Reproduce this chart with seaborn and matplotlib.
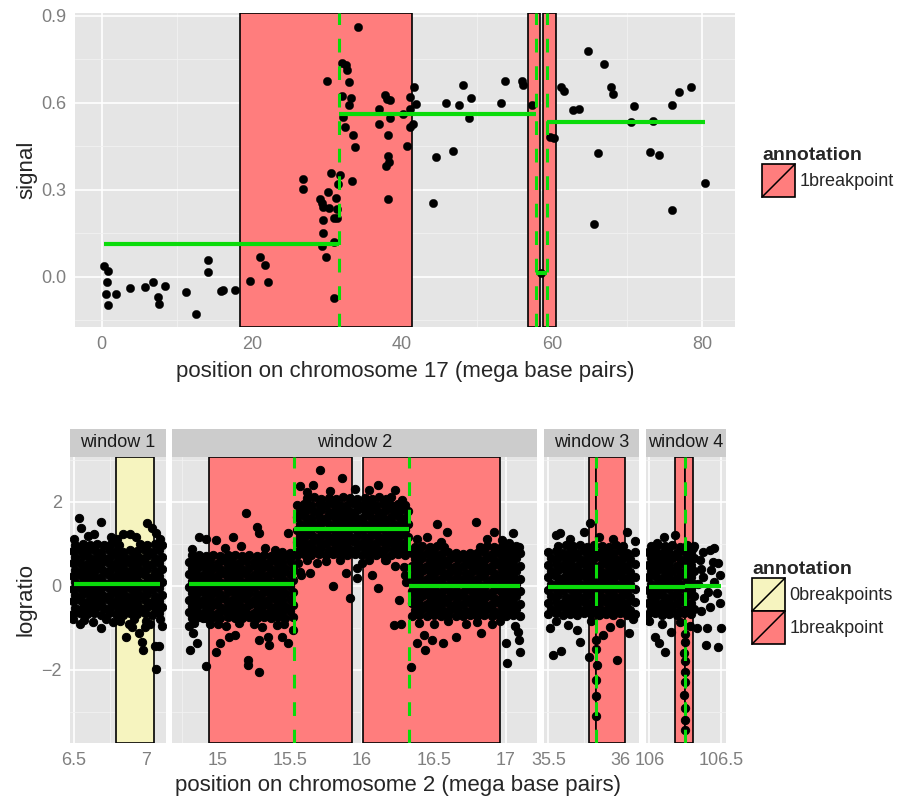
import pandas as pd
import matplotlib
matplotlib.use("Agg")
import matplotlib.pyplot as plt
import seaborn as sns
from matplotlib.patches import Rectangle, Patch
from matplotlib.lines import Line2D
from matplotlib.legend_handler import HandlerPatch

sns.set_style("white")
plt.rcParams["font.family"] = ["Liberation Sans", "DejaVu Sans"]

RED = "#ff7d7d"
YELLOW = "#f6f4bf"
GREEN = "#0adb0a"
BG = "#e5e5e5"
MINOR = "#f2f2f2"
TICK = "#7f7f7f"

# ---- top panel: chromosome 17 ----
top_pos = [0.35, 0.89, 0.75, 0.53, 1.9, 0.89, 3.8, 5.8, 6.8, 7.5, 7.6, 8.4, 11.2, 12.5, 14.2, 14.1, 15.9, 16.1, 17.7, 19.8, 21.1, 21.7, 22.1,
           34.2, 32.0, 32.6, 32.7, 30.0, 33.0, 32.0, 33.2, 33.0, 32.4, 32.1, 33.5, 33.8, 30.5, 31.7, 33.3, 26.8, 26.8, 31.5, 30.2, 31.2, 29.1, 29.3, 29.5, 30.3, 31.3, 30.9, 29.5, 31.3, 29.5, 29.3, 31.0, 29.9, 31.0,
           37.7, 38.0, 38.4, 36.9, 37.0, 38.4, 38.1, 38.1, 38.3, 37.9, 38.1, 40.2, 40.7, 41.6, 41.1, 41.1, 41.9, 41.5, 41.1,
           44.6, 44.2, 46.8, 45.9, 47.6, 48.1, 49.2, 49.0, 53.2, 53.7, 56.0, 56.2, 57.3, 58.5,
           61.2, 61.6, 62.8, 63.6, 59.8, 60.3, 64.8, 67.0, 67.9, 68.2, 66.2, 65.6, 71.0, 70.6, 73.5, 73.1, 74.3, 76.0, 76.9, 78.6, 76.0, 80.4]
top_signal = [0.038, 0.021, -0.018, -0.059, -0.059, -0.097, -0.041, -0.037, -0.018, -0.069, -0.093, -0.031, -0.053, -0.128, 0.059, 0.016, -0.048, -0.046, -0.046, -0.015, 0.069, 0.040, -0.018,
              0.861, 0.738, 0.730, 0.712, 0.675, 0.673, 0.625, 0.616, 0.594, 0.516, 0.550, 0.488, 0.446, 0.356, 0.352, 0.331, 0.338, 0.303, 0.320, 0.291, 0.273, 0.268, 0.254, 0.242, 0.237, 0.233, 0.202, 0.196, 0.201, 0.149, 0.107, 0.118, 0.069, -0.073,
              0.626, 0.614, 0.611, 0.579, 0.528, 0.549, 0.488, 0.415, 0.394, 0.381, 0.269, 0.560, 0.450, 0.653, 0.619, 0.580, 0.595, 0.528, 0.518,
              0.414, 0.253, 0.435, 0.598, 0.591, 0.660, 0.615, 0.549, 0.598, 0.674, 0.675, 0.660, 0.594, 0.014,
              0.653, 0.640, 0.574, 0.577, 0.482, 0.478, 0.779, 0.733, 0.656, 0.629, 0.425, 0.182, 0.588, 0.533, 0.536, 0.431, 0.421, 0.591, 0.636, 0.653, 0.231, 0.324]
top_regions = [(18.44, 41.3), (56.75, 58.44), (58.75, 60.48)]
top_breaks = [31.64, 57.9, 59.37]
top_segments = [(0.35, 31.64, 0.114), (31.64, 57.9, 0.563), (57.9, 59.37, 0.014), (59.37, 80.4, 0.534)]

# ---- bottom panels: chromosome 2, four windows ----
w1_pts = [
    (6.51, 0.98), (6.56, 1.00), (6.61, 0.97), (6.66, 0.99), (6.71, 0.96), (6.76, 1.00), (6.81, 0.98), (6.96, 0.99), (7.01, 0.97), (7.06, 1.00), (7.11, 0.96),
    (6.49, 0.83), (6.54, 0.85), (6.59, 0.82), (6.64, 0.84), (6.69, 0.81), (6.74, 0.85), (6.79, 0.83), (6.84, 0.81), (6.89, 0.84), (6.94, 0.82), (6.99, 0.85), (7.04, 0.81), (7.09, 0.84),
    (6.51, 0.68), (6.56, 0.70), (6.61, 0.67), (6.66, 0.69), (6.71, 0.66), (6.76, 0.70), (6.81, 0.68), (6.86, 0.66), (6.91, 0.69), (6.96, 0.67), (7.01, 0.70), (7.06, 0.66), (7.11, 0.69),
    (6.49, 0.53), (6.54, 0.55), (6.59, 0.52), (6.64, 0.54), (6.69, 0.51), (6.74, 0.55), (6.79, 0.53), (6.84, 0.51), (6.89, 0.54), (6.94, 0.52), (6.99, 0.55), (7.04, 0.51), (7.09, 0.54),
    (6.51, 0.38), (6.56, 0.40), (6.61, 0.37), (6.66, 0.39), (6.71, 0.36), (6.76, 0.40), (6.81, 0.38), (6.86, 0.36), (6.91, 0.39), (6.96, 0.37), (7.01, 0.40), (7.06, 0.36), (7.11, 0.39),
    (6.49, 0.23), (6.54, 0.25), (6.59, 0.22), (6.64, 0.24), (6.69, 0.21), (6.74, 0.25), (6.79, 0.23), (6.84, 0.21), (6.89, 0.24), (6.94, 0.22), (6.99, 0.25), (7.04, 0.21), (7.09, 0.24),
    (6.51, 0.08), (6.56, 0.10), (6.61, 0.07), (6.66, 0.09), (6.71, 0.06), (6.76, 0.10), (6.81, 0.08), (6.86, 0.06), (6.91, 0.09), (6.96, 0.07), (7.01, 0.10), (7.06, 0.06), (7.11, 0.09),
    (6.49, -0.07), (6.54, -0.05), (6.59, -0.08), (6.64, -0.06), (6.69, -0.09), (6.74, -0.05), (6.79, -0.07), (6.84, -0.09), (6.89, -0.06), (6.94, -0.08), (6.99, -0.05), (7.04, -0.09), (7.09, -0.06),
    (6.51, -0.22), (6.56, -0.20), (6.61, -0.23), (6.66, -0.21), (6.71, -0.24), (6.76, -0.20), (6.81, -0.22), (6.86, -0.24), (6.91, -0.21), (6.96, -0.23), (7.01, -0.20), (7.06, -0.24), (7.11, -0.21),
    (6.49, -0.37), (6.54, -0.35), (6.59, -0.38), (6.64, -0.36), (6.69, -0.39), (6.74, -0.35), (6.79, -0.37), (6.84, -0.39), (6.89, -0.36), (6.94, -0.38), (6.99, -0.35), (7.04, -0.39), (7.09, -0.36),
    (6.51, -0.52), (6.56, -0.50), (6.61, -0.53), (6.66, -0.51), (6.71, -0.54), (6.76, -0.50), (6.81, -0.52), (6.86, -0.54), (6.91, -0.51), (6.96, -0.53), (7.01, -0.50), (7.06, -0.54), (7.11, -0.51),
    (6.49, -0.67), (6.54, -0.65), (6.59, -0.68), (6.64, -0.66), (6.69, -0.69), (6.74, -0.65), (6.79, -0.67), (6.84, -0.69), (6.89, -0.66), (6.94, -0.68), (6.99, -0.65), (7.04, -0.69), (7.09, -0.66),
    (6.535, 1.60), (6.69, 1.52), (6.55, 1.37), (7.01, 1.50), (7.04, 1.37), (7.07, 1.25), (6.60, 1.18), (6.64, 1.24), (6.76, 1.17), (6.80, 1.10),
    (6.84, 1.22), (6.89, 1.24), (6.93, 1.16), (6.50, 1.12), (7.10, 1.10),
    (6.86, -1.23), (6.95, -1.12), (6.97, -1.33), (6.98, -1.53), (7.06, -1.44), (7.09, -1.44), (7.07, -1.99), (6.69, -1.01), (6.54, -0.91), (6.63, -0.87),
    (7.03, -0.91), (6.49, -0.80), (6.57, -0.82), (6.72, -0.80), (6.77, -0.86), (6.82, -0.84), (6.88, -0.90), (6.92, -0.80), (7.00, -0.83), (7.10, -0.80),
    (6.99, -0.98), (6.90, -0.99), (7.11, -0.95),
]
w2_pts = [
    # left segment
    (14.82, 0.72), (14.87, 0.74), (14.92, 0.71), (14.97, 0.73), (15.02, 0.70), (15.07, 0.74), (15.12, 0.72), (15.17, 0.70), (15.22, 0.73), (15.27, 0.71), (15.32, 0.74), (15.37, 0.70), (15.42, 0.73), (15.47, 0.72), (15.52, 0.74),
    (14.80, 0.57), (14.85, 0.59), (14.90, 0.56), (14.95, 0.58), (15.00, 0.55), (15.05, 0.59), (15.10, 0.57), (15.15, 0.55), (15.20, 0.58), (15.25, 0.56), (15.30, 0.59), (15.35, 0.55), (15.40, 0.58), (15.45, 0.57), (15.50, 0.59),
    (14.82, 0.42), (14.87, 0.44), (14.92, 0.41), (14.97, 0.43), (15.02, 0.40), (15.07, 0.44), (15.12, 0.42), (15.17, 0.40), (15.22, 0.43), (15.27, 0.41), (15.32, 0.44), (15.37, 0.40), (15.42, 0.43), (15.47, 0.42), (15.52, 0.44),
    (14.80, 0.27), (14.85, 0.29), (14.90, 0.26), (14.95, 0.28), (15.00, 0.25), (15.05, 0.29), (15.10, 0.27), (15.15, 0.25), (15.20, 0.28), (15.25, 0.26), (15.30, 0.29), (15.35, 0.25), (15.40, 0.28), (15.45, 0.27), (15.50, 0.29),
    (14.82, 0.12), (14.87, 0.14), (14.92, 0.11), (14.97, 0.13), (15.02, 0.10), (15.07, 0.14), (15.12, 0.12), (15.17, 0.10), (15.22, 0.13), (15.27, 0.11), (15.32, 0.14), (15.37, 0.10), (15.42, 0.13), (15.47, 0.12), (15.52, 0.14),
    (14.80, -0.03), (14.85, -0.01), (14.90, -0.04), (14.95, -0.02), (15.00, -0.05), (15.05, -0.01), (15.10, -0.03), (15.15, -0.05), (15.20, -0.02), (15.25, -0.04), (15.30, -0.01), (15.35, -0.05), (15.40, -0.02), (15.45, -0.03), (15.50, -0.01),
    (14.82, -0.18), (14.87, -0.16), (14.92, -0.19), (14.97, -0.17), (15.02, -0.20), (15.07, -0.16), (15.12, -0.18), (15.17, -0.20), (15.22, -0.17), (15.27, -0.19), (15.32, -0.16), (15.37, -0.20), (15.42, -0.17), (15.47, -0.18), (15.52, -0.16),
    (14.80, -0.33), (14.85, -0.31), (14.90, -0.34), (14.95, -0.32), (15.00, -0.35), (15.05, -0.31), (15.10, -0.33), (15.15, -0.35), (15.20, -0.32), (15.25, -0.34), (15.30, -0.31), (15.35, -0.35), (15.40, -0.32), (15.45, -0.33), (15.50, -0.31),
    (14.82, -0.48), (14.87, -0.46), (14.92, -0.49), (14.97, -0.47), (15.02, -0.50), (15.07, -0.46), (15.12, -0.48), (15.17, -0.50), (15.22, -0.47), (15.27, -0.49), (15.32, -0.46), (15.37, -0.50), (15.42, -0.47), (15.47, -0.48), (15.52, -0.46),
    (14.80, -0.63), (14.85, -0.61), (14.90, -0.64), (14.95, -0.62), (15.00, -0.65), (15.05, -0.61), (15.10, -0.63), (15.15, -0.65), (15.20, -0.62), (15.25, -0.64), (15.30, -0.61), (15.35, -0.65), (15.40, -0.62), (15.45, -0.63), (15.50, -0.61),
    (14.82, -0.76), (14.87, -0.74), (14.92, -0.77), (14.97, -0.75), (15.02, -0.78), (15.07, -0.74), (15.12, -0.76), (15.17, -0.78), (15.22, -0.75), (15.27, -0.77), (15.32, -0.74), (15.37, -0.78), (15.42, -0.75), (15.47, -0.76), (15.52, -0.74),
    (14.81, -1.53), (14.86, -1.37), (14.83, -1.13), (14.90, -0.78), (14.92, -1.91), (14.80, -0.95), (14.84, -0.88), (14.95, -0.92),
    (14.87, 1.15), (15.20, 1.74), (15.27, 1.40), (15.29, 1.25), (15.11, 1.15), (14.99, 1.09), (14.92, 1.10), (15.33, 0.89), (15.49, 1.25), (14.82, 0.88),
    (15.05, 0.90), (15.16, 0.95), (15.40, 0.85), (15.45, 0.80), (15.50, 0.78),
    (14.99, -1.57), (15.02, -1.37), (15.08, -1.21), (15.12, -1.17), (15.21, -1.77), (15.21, -1.89), (15.29, -2.05), (15.29, -1.29), (15.35, -1.21), (15.36, -1.41),
    (15.45, -1.21), (15.49, -1.37), (15.41, -0.94), (15.00, -0.90), (15.06, -0.95), (15.15, -0.88), (15.25, -0.92), (15.31, -0.98), (15.46, -0.90), (15.52, -1.05),
    # middle segment
    (15.62, 2.08), (15.67, 2.10), (15.72, 2.07), (15.77, 2.09), (15.82, 2.06), (15.87, 2.10), (15.92, 2.08), (15.97, 2.06), (16.02, 2.09), (16.07, 2.07), (16.12, 2.10), (16.17, 2.06),
    (15.55, 1.93), (15.60, 1.95), (15.65, 1.92), (15.70, 1.94), (15.75, 1.91), (15.80, 1.95), (15.85, 1.93), (15.90, 1.91), (15.95, 1.94), (16.00, 1.92), (16.05, 1.95), (16.10, 1.91), (16.15, 1.94), (16.20, 1.93), (16.25, 1.95), (16.30, 1.92),
    (15.57, 1.78), (15.62, 1.80), (15.67, 1.77), (15.72, 1.79), (15.77, 1.76), (15.82, 1.80), (15.87, 1.78), (15.92, 1.76), (15.97, 1.79), (16.02, 1.77), (16.07, 1.80), (16.12, 1.76), (16.17, 1.79), (16.22, 1.78), (16.27, 1.80), (16.32, 1.77),
    (15.55, 1.63), (15.60, 1.65), (15.65, 1.62), (15.70, 1.64), (15.75, 1.61), (15.80, 1.65), (15.85, 1.63), (15.90, 1.61), (15.95, 1.64), (16.00, 1.62), (16.05, 1.65), (16.10, 1.61), (16.15, 1.64), (16.20, 1.63), (16.25, 1.65), (16.30, 1.62),
    (15.57, 1.48), (15.62, 1.50), (15.67, 1.47), (15.72, 1.49), (15.77, 1.46), (15.82, 1.50), (15.87, 1.48), (15.92, 1.46), (15.97, 1.49), (16.02, 1.47), (16.07, 1.50), (16.12, 1.46), (16.17, 1.49), (16.22, 1.48), (16.27, 1.50), (16.32, 1.47),
    (15.55, 1.33), (15.60, 1.35), (15.65, 1.32), (15.70, 1.34), (15.75, 1.31), (15.80, 1.35), (15.85, 1.33), (15.90, 1.31), (15.95, 1.34), (16.00, 1.32), (16.05, 1.35), (16.10, 1.31), (16.15, 1.34), (16.20, 1.33), (16.25, 1.35), (16.30, 1.32),
    (15.57, 1.18), (15.62, 1.20), (15.67, 1.17), (15.72, 1.19), (15.77, 1.16), (15.82, 1.20), (15.87, 1.18), (15.92, 1.16), (15.97, 1.19), (16.02, 1.17), (16.07, 1.20), (16.12, 1.16), (16.17, 1.19), (16.22, 1.18), (16.27, 1.20), (16.32, 1.17),
    (15.55, 1.03), (15.60, 1.05), (15.65, 1.02), (15.70, 1.04), (15.75, 1.01), (15.80, 1.05), (15.85, 1.03), (15.90, 1.01), (15.95, 1.04), (16.00, 1.02), (16.05, 1.05), (16.10, 1.01), (16.15, 1.04), (16.20, 1.03), (16.25, 1.05), (16.30, 1.02),
    (15.57, 0.88), (15.62, 0.90), (15.67, 0.87), (15.72, 0.89), (15.77, 0.86), (15.82, 0.90), (15.87, 0.88), (15.92, 0.86), (15.97, 0.89), (16.02, 0.87), (16.07, 0.90), (16.12, 0.86), (16.17, 0.89), (16.22, 0.88), (16.27, 0.90), (16.32, 0.87),
    (15.55, 0.74), (15.60, 0.76), (15.65, 0.73), (15.70, 0.75), (15.75, 0.72), (15.80, 0.76), (15.85, 0.74), (15.90, 0.72), (15.95, 0.75), (16.00, 0.73), (16.05, 0.76), (16.10, 0.72), (16.15, 0.75), (16.20, 0.74), (16.25, 0.76), (16.30, 0.73),
    (15.71, 2.75), (15.86, 2.56), (16.11, 2.40), (16.23, 2.28), (15.57, 2.37), (15.66, 2.40), (15.62, 2.22), (15.78, 2.25), (15.95, 2.30), (16.05, 2.28), (16.20, 2.10), (16.28, 2.05),
    (15.80, -0.01), (15.92, -0.30), (15.97, 0.41), (15.97, 0.18), (16.07, 0.25), (16.11, -0.05), (16.17, 0.61), (15.64, 0.30), (15.57, 0.33), (15.89, 0.30),
    (16.26, -0.34), (16.23, 0.47), (15.56, 0.53), (15.58, 0.25), (15.69, 0.53), (16.16, 0.61), (16.30, 0.25), (16.22, -0.94), (16.27, -0.90), (15.62, 0.60),
    (15.75, 0.58), (15.85, 0.62), (16.00, 0.55), (16.05, 0.62), (16.29, 0.45), (16.31, 0.10),
    # right segment
    (16.37, 0.93), (16.42, 0.95), (16.47, 0.92), (16.52, 0.94), (16.57, 0.91), (16.82, 0.93), (16.87, 0.95), (16.92, 0.92), (16.97, 0.94), (17.02, 0.91), (17.07, 0.95),
    (16.35, 0.78), (16.40, 0.80), (16.45, 0.77), (16.50, 0.79), (16.55, 0.76), (16.60, 0.80), (16.65, 0.78), (16.70, 0.76), (16.75, 0.79), (16.80, 0.77), (16.85, 0.80), (16.90, 0.76), (16.95, 0.79), (17.00, 0.78), (17.05, 0.80), (17.10, 0.77),
    (16.37, 0.63), (16.42, 0.65), (16.47, 0.62), (16.52, 0.64), (16.57, 0.61), (16.62, 0.65), (16.67, 0.63), (16.72, 0.61), (16.77, 0.64), (16.82, 0.62), (16.87, 0.65), (16.92, 0.61), (16.97, 0.64), (17.02, 0.63), (17.07, 0.65),
    (16.35, 0.48), (16.40, 0.50), (16.45, 0.47), (16.50, 0.49), (16.55, 0.46), (16.60, 0.50), (16.65, 0.48), (16.70, 0.46), (16.75, 0.49), (16.80, 0.47), (16.85, 0.50), (16.90, 0.46), (16.95, 0.49), (17.00, 0.48), (17.05, 0.50), (17.10, 0.47),
    (16.37, 0.33), (16.42, 0.35), (16.47, 0.32), (16.52, 0.34), (16.57, 0.31), (16.62, 0.35), (16.67, 0.33), (16.72, 0.31), (16.77, 0.34), (16.82, 0.32), (16.87, 0.35), (16.92, 0.31), (16.97, 0.34), (17.02, 0.33), (17.07, 0.35),
    (16.35, 0.18), (16.40, 0.20), (16.45, 0.17), (16.50, 0.19), (16.55, 0.16), (16.60, 0.20), (16.65, 0.18), (16.70, 0.16), (16.75, 0.19), (16.80, 0.17), (16.85, 0.20), (16.90, 0.16), (16.95, 0.19), (17.00, 0.18), (17.05, 0.20), (17.10, 0.17),
    (16.37, 0.03), (16.42, 0.05), (16.47, 0.02), (16.52, 0.04), (16.57, 0.01), (16.62, 0.05), (16.67, 0.03), (16.72, 0.01), (16.77, 0.04), (16.82, 0.02), (16.87, 0.05), (16.92, 0.01), (16.97, 0.04), (17.02, 0.03), (17.07, 0.05),
    (16.35, -0.12), (16.40, -0.10), (16.45, -0.13), (16.50, -0.11), (16.55, -0.14), (16.60, -0.10), (16.65, -0.12), (16.70, -0.14), (16.75, -0.11), (16.80, -0.13), (16.85, -0.10), (16.90, -0.14), (16.95, -0.11), (17.00, -0.12), (17.05, -0.10), (17.10, -0.13),
    (16.37, -0.27), (16.42, -0.25), (16.47, -0.28), (16.52, -0.26), (16.57, -0.29), (16.62, -0.25), (16.67, -0.27), (16.72, -0.29), (16.77, -0.26), (16.82, -0.28), (16.87, -0.25), (16.92, -0.29), (16.97, -0.26), (17.02, -0.27), (17.07, -0.25),
    (16.35, -0.42), (16.40, -0.40), (16.45, -0.43), (16.50, -0.41), (16.55, -0.44), (16.60, -0.40), (16.65, -0.42), (16.70, -0.44), (16.75, -0.41), (16.80, -0.43), (16.85, -0.40), (16.90, -0.44), (16.95, -0.41), (17.00, -0.42), (17.05, -0.40), (17.10, -0.43),
    (16.37, -0.57), (16.42, -0.55), (16.47, -0.58), (16.52, -0.56), (16.57, -0.59), (16.62, -0.55), (16.67, -0.57), (16.72, -0.59), (16.77, -0.56), (16.82, -0.58), (16.87, -0.55), (16.92, -0.59), (16.97, -0.56), (17.02, -0.57), (17.07, -0.55),
    (16.35, -0.71), (16.40, -0.69), (16.45, -0.72), (16.50, -0.70), (16.55, -0.73), (16.60, -0.69), (16.65, -0.71), (16.70, -0.73), (16.75, -0.70), (16.80, -0.72), (16.85, -0.69), (16.90, -0.73), (16.95, -0.70), (17.00, -0.71), (17.05, -0.69), (17.10, -0.72),
    (16.52, 1.47), (16.79, 1.52), (16.59, 1.29), (16.92, 1.29), (17.05, 1.25), (17.09, 0.93), (16.38, 1.10), (16.45, 1.15), (16.55, 1.05), (16.87, 1.10),
    (16.97, 1.08), (17.02, 1.02),
    (16.38, -1.36), (16.43, -1.17), (16.44, -1.53), (16.49, -1.29), (16.56, -1.36), (16.65, -1.21), (16.83, -1.12), (17.00, -1.36), (17.09, -1.29), (17.10, -1.57),
    (17.01, -1.83), (16.34, -1.93), (16.40, -0.88), (16.50, -0.92), (16.60, -0.85), (16.72, -0.90), (16.80, -0.86), (16.90, -0.92), (16.96, -0.84), (17.06, -0.95),
    (17.08, -1.10),
]
w3_pts = [
    (35.57, 0.95), (35.62, 0.97), (35.67, 0.94), (35.72, 0.96), (35.77, 0.93), (35.82, 0.97), (35.87, 0.95), (35.92, 0.93), (35.97, 0.96), (36.02, 0.94),
    (35.50, 0.80), (35.55, 0.82), (35.60, 0.79), (35.65, 0.81), (35.70, 0.78), (35.75, 0.82), (35.80, 0.80), (35.85, 0.78), (35.90, 0.81), (35.95, 0.79), (36.00, 0.82), (36.05, 0.78), (36.10, 0.81),
    (35.52, 0.65), (35.57, 0.67), (35.62, 0.64), (35.67, 0.66), (35.72, 0.63), (35.77, 0.67), (35.82, 0.65), (35.87, 0.63), (35.92, 0.66), (35.97, 0.64), (36.02, 0.67), (36.07, 0.63),
    (35.50, 0.50), (35.55, 0.52), (35.60, 0.49), (35.65, 0.51), (35.70, 0.48), (35.75, 0.52), (35.80, 0.50), (35.85, 0.48), (35.90, 0.51), (35.95, 0.49), (36.00, 0.52), (36.05, 0.48), (36.10, 0.51),
    (35.52, 0.35), (35.57, 0.37), (35.62, 0.34), (35.67, 0.36), (35.72, 0.33), (35.77, 0.37), (35.82, 0.35), (35.87, 0.33), (35.92, 0.36), (35.97, 0.34), (36.02, 0.37), (36.07, 0.33),
    (35.50, 0.20), (35.55, 0.22), (35.60, 0.19), (35.65, 0.21), (35.70, 0.18), (35.75, 0.22), (35.80, 0.20), (35.85, 0.18), (35.90, 0.21), (35.95, 0.19), (36.00, 0.22), (36.05, 0.18), (36.10, 0.21),
    (35.52, 0.05), (35.57, 0.07), (35.62, 0.04), (35.67, 0.06), (35.72, 0.03), (35.77, 0.07), (35.82, 0.05), (35.87, 0.03), (35.92, 0.06), (35.97, 0.04), (36.02, 0.07), (36.07, 0.03),
    (35.50, -0.10), (35.55, -0.08), (35.60, -0.11), (35.65, -0.09), (35.70, -0.12), (35.75, -0.08), (35.80, -0.10), (35.85, -0.12), (35.90, -0.09), (35.95, -0.11), (36.00, -0.08), (36.05, -0.12), (36.10, -0.09),
    (35.52, -0.25), (35.57, -0.23), (35.62, -0.26), (35.67, -0.24), (35.72, -0.27), (35.77, -0.23), (35.82, -0.25), (35.87, -0.27), (35.92, -0.24), (35.97, -0.26), (36.02, -0.23), (36.07, -0.27),
    (35.50, -0.40), (35.55, -0.38), (35.60, -0.41), (35.65, -0.39), (35.70, -0.42), (35.75, -0.38), (35.80, -0.40), (35.85, -0.42), (35.90, -0.39), (35.95, -0.41), (36.00, -0.38), (36.05, -0.42), (36.10, -0.39),
    (35.52, -0.55), (35.57, -0.53), (35.62, -0.56), (35.67, -0.54), (35.72, -0.57), (35.77, -0.53), (35.82, -0.55), (35.87, -0.57), (35.92, -0.54), (35.97, -0.56), (36.02, -0.53), (36.07, -0.57),
    (35.50, -0.68), (35.55, -0.66), (35.60, -0.69), (35.65, -0.67), (35.70, -0.70), (35.75, -0.66), (35.80, -0.68), (35.85, -0.70), (35.90, -0.67), (35.95, -0.69), (36.00, -0.66), (36.05, -0.70), (36.10, -0.67),
    (35.79, 1.49), (35.58, 1.25), (35.55, 1.21), (36.05, 1.29), (36.10, 1.07), (35.75, 1.29), (35.65, 1.12), (35.85, 1.15), (35.95, 1.10),
    (35.53, -1.65), (35.59, -1.55), (35.51, -1.01), (35.64, -0.94), (35.70, -1.05), (35.72, -1.33), (35.93, -0.98), (35.98, -1.77), (36.06, -1.13), (35.78, -1.69),
    (35.88, -1.17), (35.55, -0.85), (35.80, -0.85), (36.00, -0.88), (36.09, -0.80),
    (35.83, -1.30), (35.83, -1.50), (35.84, -1.89), (35.83, -2.25), (35.83, -2.62), (35.83, -3.10),
]
w4_pts = [
    (106.01, 0.95), (106.06, 0.97), (106.11, 0.94), (106.16, 0.96), (106.21, 0.93), (106.26, 0.97), (106.31, 0.95),
    (105.99, 0.80), (106.04, 0.82), (106.09, 0.79), (106.14, 0.81), (106.19, 0.78), (106.24, 0.82), (106.29, 0.80),
    (106.01, 0.65), (106.06, 0.67), (106.11, 0.64), (106.16, 0.66), (106.21, 0.63), (106.26, 0.67), (106.31, 0.65),
    (105.99, 0.50), (106.04, 0.52), (106.09, 0.49), (106.14, 0.51), (106.19, 0.48), (106.24, 0.52), (106.29, 0.50),
    (106.01, 0.35), (106.06, 0.37), (106.11, 0.34), (106.16, 0.36), (106.21, 0.33), (106.26, 0.37), (106.31, 0.35),
    (105.99, 0.20), (106.04, 0.22), (106.09, 0.19), (106.14, 0.21), (106.19, 0.18), (106.24, 0.22), (106.29, 0.20),
    (106.01, 0.05), (106.06, 0.07), (106.11, 0.04), (106.16, 0.06), (106.21, 0.03), (106.26, 0.07), (106.31, 0.05),
    (105.99, -0.10), (106.04, -0.08), (106.09, -0.11), (106.14, -0.09), (106.19, -0.12), (106.24, -0.08), (106.29, -0.10),
    (106.01, -0.25), (106.06, -0.23), (106.11, -0.26), (106.16, -0.24), (106.21, -0.27), (106.26, -0.23), (106.31, -0.25),
    (105.99, -0.40), (106.04, -0.38), (106.09, -0.41), (106.14, -0.39), (106.19, -0.42), (106.24, -0.38), (106.29, -0.40),
    (106.01, -0.55), (106.06, -0.53), (106.11, -0.56), (106.16, -0.54), (106.21, -0.57), (106.26, -0.53), (106.31, -0.55),
    (105.99, -0.68), (106.04, -0.66), (106.09, -0.69), (106.14, -0.67), (106.19, -0.70), (106.24, -0.66), (106.29, -0.68),
    (106.42, 0.85), (106.45, 0.89), (106.44, 0.57), (106.48, 0.53), (106.43, 0.37), (106.49, 0.25), (106.37, 0.21), (106.47, -0.18), (106.49, -0.42), (106.50, -1.01),
    (106.48, -1.45), (106.39, -1.41), (106.33, -1.01), (106.40, -1.01), (106.41, -0.14), (106.42, -0.50), (106.35, 0.60), (106.36, 0.40), (106.38, -0.30), (106.34, 0.05),
    (106.36, -0.60), (106.45, 0.10), (106.37, 0.80),
    (106.18, 1.21), (106.05, 1.01), (106.30, 0.89), (106.10, 1.15), (106.07, -1.37), (106.11, -1.57), (106.04, -1.21), (106.15, -1.10), (106.21, -0.86), (106.00, -0.85),
    (106.09, -0.90), (106.28, -0.95),
    (106.25, -1.15), (106.25, -1.35), (106.24, -1.60), (106.25, -1.80), (106.25, -2.05), (106.25, -2.30), (106.24, -2.60), (106.25, -2.90), (106.25, -3.20), (106.25, -3.44),
]

windows = ["window 1", "window 2", "window 3", "window 4"]
window_points = [w1_pts, w2_pts, w3_pts, w4_pts]
window_limits = [(6.472, 7.139), (14.684, 17.215), (35.47, 36.13), (105.977, 106.53)]
window_ticks = [[6.5, 7], [15, 15.5, 16, 16.5, 17], [35.5, 36], [106, 106.5]]
window_ticklabels = [["6.5", "7"], ["15", "15.5", "16", "16.5", "17"], ["35.5", "36"], ["106", "106.5"]]
window_minor = [[6.75], [14.75, 15.25, 15.75, 16.25, 16.75], [35.75], [106.25]]
window_regions = [
    [(6.79, 7.058, "0breakpoints")],
    [(14.944, 15.934, "1breakpoint"), (16.005, 16.96, "1breakpoint")],
    [(35.78, 35.83, "1breakpoint"), (35.83, 36.03, "1breakpoint")],
    [(106.18, 106.25, "1breakpoint"), (106.25, 106.30, "1breakpoint")],
]
window_breaks = [[], [15.53, 16.33], [35.83], [106.25]]
window_segments = [
    [(6.50, 7.10, 0.04)],
    [(14.80, 15.53, 0.033), (15.53, 16.33, 1.34), (16.33, 17.10, -0.015)],
    [(35.50, 35.83, -0.02), (35.83, 36.10, -0.02)],
    [(106.00, 106.25, -0.02), (106.25, 106.50, -0.01)],
]
region_colors = {"0breakpoints": YELLOW, "1breakpoint": RED}

TICK_SIZE = 13
TITLE_SIZE = 16
DOT = 36


class SlashKey(HandlerPatch):
    def create_artists(self, legend, orig_handle, xdescent, ydescent, width, height, fontsize, trans):
        box = Rectangle((-xdescent, -ydescent), width, height, facecolor=orig_handle.get_facecolor(),
                        edgecolor="black", lw=1.2, transform=trans)
        slash = Line2D([-xdescent, -xdescent + width], [-ydescent, -ydescent + height],
                       color="black", lw=1.1, transform=trans)
        return [box, slash]


def ggstyle(ax, xmaj, xlab, xmin, ymaj, ylab, ymin, show_y=True):
    ax.set_facecolor(BG)
    ax.set_xticks(xmaj, xlab)
    ax.set_xticks(xmin, minor=True)
    ax.set_yticks(ymaj, ylab if show_y else [""] * len(ymaj))
    ax.set_yticks(ymin, minor=True)
    ax.grid(True, which="major", color="white", lw=1.2)
    ax.grid(True, which="minor", color=MINOR, lw=0.6)
    ax.set_axisbelow(True)
    for sp in ax.spines.values():
        sp.set_visible(False)
    ax.tick_params(which="major", length=4, width=1.1, color=TICK, labelcolor=TICK, labelsize=TICK_SIZE, pad=2)
    ax.tick_params(which="minor", length=0)
    if not show_y:
        ax.tick_params(axis="y", length=0)


def add_legend(fig, labels, anchor):
    handles = [Patch(facecolor=region_colors[l], label=l) for l in labels]
    fig.legend(handles=handles, title="annotation", loc="upper left", bbox_to_anchor=anchor,
               frameon=False, fontsize=13, title_fontproperties={"weight": "bold", "size": 14},
               handler_map={Patch: SlashKey()}, handlelength=1.83, handleheight=2.44,
               labelspacing=0, handletextpad=0.25, alignment="left", borderpad=0, borderaxespad=0)


fig = plt.figure(figsize=(9, 7.98), dpi=100)

# top panel
top_df = pd.DataFrame({"position": top_pos, "signal": top_signal})
ax = fig.add_axes([75 / 900, 1 - 327.3 / 798, 660 / 900, 314 / 798])
for x0, x1 in top_regions:
    ax.axvspan(x0, x1, facecolor=RED, edgecolor="black", lw=1.2, zorder=1)
sns.scatterplot(data=top_df, x="position", y="signal", ax=ax, color="black", s=DOT,
                edgecolor="black", linewidth=0.3, legend=False, zorder=2)
for x0, x1, y in top_segments:
    ax.hlines(y, x0, x1, color=GREEN, lw=3, zorder=3)
for b in top_breaks:
    ax.axvline(b, color=GREEN, lw=2.2, ls=(0, (4.5, 4.5)), zorder=4)
ax.set_xlim(-3.56, 84.4)
ax.set_ylim(-0.175, 0.909)
ggstyle(ax, [0, 20, 40, 60, 80], ["0", "20", "40", "60", "80"], [10, 30, 50, 70],
        [0, 0.3, 0.6, 0.9], ["0.0", "0.3", "0.6", "0.9"], [-0.15, 0.15, 0.45, 0.75])
ax.set_xlabel("position on chromosome 17 (mega base pairs)", fontsize=TITLE_SIZE, labelpad=6)
ax.set_ylabel("signal", fontsize=TITLE_SIZE, labelpad=3)
add_legend(fig, ["1breakpoint"], (762 / 900, 1 - 147 / 798))

# bottom facets
panel_left = [70, 172, 544, 646]
panel_width = [96, 365, 95, 79.7]
for i, name in enumerate(windows):
    d = pd.DataFrame(window_points[i], columns=["position", "logratio"])
    d["window"] = name
    x0 = panel_left[i] / 900
    w = panel_width[i] / 900
    bx = fig.add_axes([x0, 1 - 743.3 / 798, w, 286.6 / 798])
    for r0, r1, lab in window_regions[i]:
        bx.axvspan(r0, r1, facecolor=region_colors[lab], edgecolor="black", lw=1.2, zorder=1)
    sns.scatterplot(data=d, x="position", y="logratio", ax=bx, color="black", s=DOT,
                    edgecolor="black", linewidth=0.7, legend=False, zorder=2)
    for s0, s1, y in window_segments[i]:
        bx.hlines(y, s0, s1, color=GREEN, lw=3, zorder=3)
    for b in window_breaks[i]:
        bx.axvline(b, color=GREEN, lw=2.2, ls=(0, (4.5, 4.5)), zorder=4)
    bx.set_xlim(*window_limits[i])
    bx.set_ylim(-3.75, 3.07)
    ggstyle(bx, window_ticks[i], window_ticklabels[i], window_minor[i],
            [-2, 0, 2], ["\u22122", "0", "2"], [-3, -1, 1, 3], show_y=(i == 0))
    bx.set_xlabel("")
    bx.set_ylabel("logratio" if i == 0 else "", fontsize=TITLE_SIZE, labelpad=3)
    strip = fig.add_axes([x0, 1 - 456.7 / 798, w, 27.7 / 798])
    strip.set_facecolor("#cccccc")
    strip.set_xticks([])
    strip.set_yticks([])
    for sp in strip.spines.values():
        sp.set_visible(False)
    strip.text(0.5, 0.5, name, ha="center", va="center", fontsize=13, color="#1a1a1a",
               transform=strip.transAxes)

fig.text(398 / 900, 1 - 785 / 798, "position on chromosome 2 (mega base pairs)",
         ha="center", va="center", fontsize=TITLE_SIZE)
add_legend(fig, ["0breakpoints", "1breakpoint"], (752 / 900, 1 - 561 / 798))

fig.savefig("out.png", dpi=100)
